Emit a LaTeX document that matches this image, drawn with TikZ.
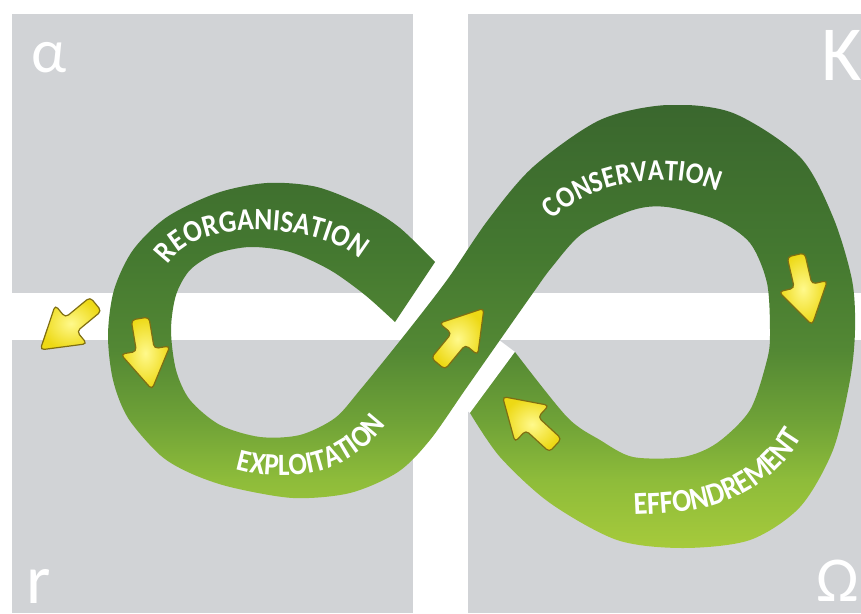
\documentclass[tikz,border=0pt]{standalone}
\usepackage{fontspec}
\setmainfont{Carlito}
\newfontfamily\bandfont{Carlito}[FakeStretch=0.88]
\usetikzlibrary{decorations.markings}
\definecolor{panelgray}{HTML}{D1D3D6}
\definecolor{ayel}{HTML}{EDD915}
\definecolor{ayellight}{HTML}{FFF98C}
\definecolor{aedge}{HTML}{7F6E12}
\pgfdeclareverticalshading{bandshade}{100bp}{%
  color(0bp)=(rgb,255:red,166;green,202;blue,59);
  color(25bp)=(rgb,255:red,166;green,202;blue,59);
  color(32.7bp)=(rgb,255:red,142;green,188;blue,58);
  color(39.4bp)=(rgb,255:red,111;green,162;blue,55);
  color(47.3bp)=(rgb,255:red,83;green,136;blue,52);
  color(58.6bp)=(rgb,255:red,68;green,120;blue,48);
  color(75bp)=(rgb,255:red,58;green,103;blue,46);
  color(100bp)=(rgb,255:red,58;green,103;blue,46)}
\tikzset{
  panel/.style={fill=panelgray, draw=none},
  bigletter/.style={text=white, inner sep=0pt, outer sep=0pt},
  bandchar/.style={text=white, inner sep=0pt, outer sep=0pt, anchor=base, transform shape},
  yarrow/.pic={
    \shadedraw[inner color=ayellight, outer color=ayel, draw=aedge, line width=1.2pt,
      rounded corners=4pt]
      (-36,-9) -- (-4,-9) -- (-4,-25) -- (36,0) -- (-4,25) -- (-4,9) -- (-36,9) -- cycle;
  }
}
% #1 path, #2 font size, #3 start offset, #4 list char/width(em)
\newcommand{\bandtext}[4]{%
  \xdef\curacc{#3}%
  \foreach \c/\w in {#4} {%
    \pgfmathsetmacro\cpos{\curacc+0.44*\w*#2}%
    \pgfmathsetmacro\cnext{\curacc+0.88*\w*#2}%
    \global\let\curacc\cnext
    \path[decorate, decoration={markings, mark=at position \cpos pt with
      {\node[bandchar, font=\bandfont\fontsize{#2}{#2}\selectfont\bfseries] {\c};}}] #1;%
  }%
}
\begin{document}
\begin{tikzpicture}[x=1pt,y=-1pt]
\useasboundingbox (0,0) rectangle (861,613);
\fill[white] (0,0) rectangle (861,613);
% panels
\fill[panel] (12,14) rectangle (413,293);
\fill[panel] (468,14) rectangle (861,293);
\fill[panel] (12,340) rectangle (413,613);
\fill[panel] (468,340) rectangle (861,613);
% corner letters
\node[bigletter, anchor=base west, font=\fontsize{62}{62}\selectfont] (alpha) at (31,72) {α};
\node[bigletter, anchor=base east, font=\fontsize{78}{78}\selectfont] (kappa) at (862,80) {K};
\node[bigletter, anchor=base west, font=\fontsize{70}{70}\selectfont] (rr) at (26,603) {r};
\node[bigletter, anchor=base east, font=\fontsize{64}{64}\selectfont] (omega) at (859,601) {Ω};
% white gaps at the crossing
\fill[white] (435,262) -- (395,322) -- (420,339) -- (460,279) -- cycle;
\fill[white] (515,352) -- (470,413) -- (446,395) -- (491,334) -- cycle;
% band
\begin{scope}
\clip plot[smooth] coordinates {(435,262) (400,228) (367,207) (317,187) (267,183) (217,193)
  (167,217) (133,250) (114,290) (108,335) (113,380) (128,418) (160,455) (190,473) (230,487)
  (293,498) (350,493) (398,472) (430,440) (465,390) (500,340) (533,293) (552,267) (583,233)
  (633,210) (667,207) (717,220) (750,243) (767,283) (770,333) (767,360) (750,410) (717,443)
  (683,457) (633,457) (600,440) (567,417) (515,352)}
  -- plot[smooth] coordinates {(470,413) (500,457) (550,503) (617,540) (683,548) (750,540)
  (800,507) (833,450) (850,380) (855,330) (852,280) (833,217) (800,157) (733,113) (667,105)
  (600,120) (533,167) (488,220) (447,280) (403,337) (360,390) (335,418) (300,435) (260,437)
  (220,425) (190,400) (176,370) (171,330) (176,295) (190,270) (215,254) (250,247) (290,252)
  (330,270) (365,295) (395,322)} -- cycle;
\shade[shading=bandshade] (0,105) rectangle (861,548);
\end{scope}
% arrows
\pic[rotate=219.5] (exitarrow) at (68,327) {yarrow};
\pic[rotate=-80.5] (leftarrow) at (146,354) {yarrow};
\pic[rotate=50.4] (centerarrow) at (461,336) {yarrow};
\pic[rotate=-77] (rightarrow) at (804,290) {yarrow};
\pic[rotate=137.3] (backarrow) at (529,421) {yarrow};
% labels
\bandtext{(166,268) .. controls (195,212) and (328,225) .. (362,262)}{31}{4}%
  {R/.563,E/.488,O/.676,R/.563,G/.637,A/.606,N/.659,I/.267,S/.473,A/.606,T/.495,I/.267,O/.676,N/.659}
\bandtext{(553,220) .. controls (585,185) and (665,166) .. (722,193)}{30}{0}%
  {C/.529,O/.676,N/.659,S/.473,E/.488,R/.563,V/.592,A/.606,T/.495,I/.267,O/.676,N/.659}
\bandtext{(233,468) .. controls (265,478) and (341,489) .. (388,422)}{31}{3}%
  {E/.488,X/.551,P/.532,L/.423,O/.676,I/.267,T/.495,A/.606,T/.495,I/.267,O/.676,N/.659}
\bandtext{(630,515) .. controls (672,512) and (756,519) .. (805,432)}{32}{4}%
  {E/.488,F/.459,F/.459,O/.676,N/.659,D/.630,R/.563,E/.488,M/.874,E/.488,N/.659,T/.495}
\end{tikzpicture}
\end{document}
